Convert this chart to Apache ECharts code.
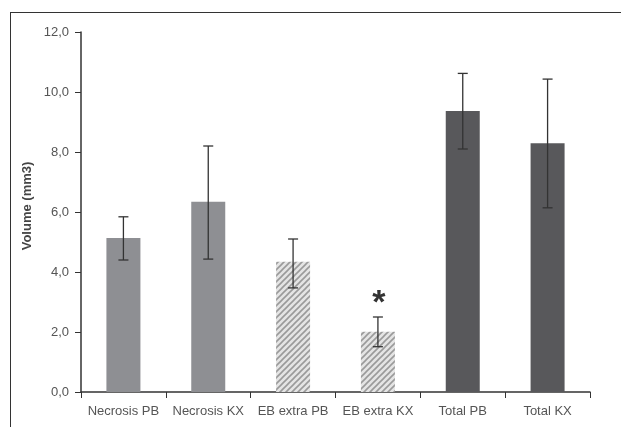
<!DOCTYPE html>
<html><head><meta charset="utf-8">
<script src="https://cdn.jsdelivr.net/npm/echarts@6/dist/echarts.min.js"></script>
<style>html,body{margin:0;padding:0;background:#fff}#c{width:621px;height:427px}
#frame{position:absolute;left:10px;top:12px;width:640px;height:440px;border:1.5px solid #333;pointer-events:none}</style>
</head><body><div id="c"></div><div id="frame"></div>
<script>
const categories = ['Necrosis PB','Necrosis KX','EB extra PB','EB extra KX','Total PB','Total KX'];
const values = [5.13, 6.34, 4.34, 2.01, 9.37, 8.29];
const errUpper = [5.84, 8.20, 5.10, 2.50, 10.62, 10.43];
const errLower = [4.40, 4.43, 3.47, 1.51, 8.10, 6.14];
const significant = [false, false, false, true, false, false];
const yTicks = [0, 2, 4, 6, 8, 10, 12];
const yTitle = 'Volume (mm3)';

function hatch(){
  const c = document.createElement('canvas');
  c.width = 6; c.height = 6;
  const g = c.getContext('2d');
  g.fillStyle = '#e4e4e4'; g.fillRect(0,0,6,6);
  g.strokeStyle = '#9a9a9a'; g.lineWidth = 1.6;
  g.beginPath();
  g.moveTo(-1,7); g.lineTo(7,-1);
  g.moveTo(-4,4); g.lineTo(4,-4);
  g.moveTo(2,10); g.lineTo(10,2);
  g.stroke();
  return {image: c, repeat: 'repeat'};
}
const pat = hatch();
const colors = ['#8e8f93','#8e8f93',pat,pat,'#58585b','#58585b'];
const font = 'Liberation Sans, Arial';

const chart = echarts.init(document.getElementById('c'));
chart.setOption({
  animation: false,
  grid: {left: 81, right: 31, top: 32, bottom: 35},
  graphic: [{
    type: 'text', rotation: Math.PI/2, position: [27, 206],
    style: {text: yTitle, x: 0, y: 0, fill: '#444', font: 'bold 13px ' + font, textAlign: 'center', textVerticalAlign: 'middle'}
  }],
  xAxis: {
    type: 'category', data: categories,
    axisLine: {lineStyle: {color: '#333', width: 1.5}},
    axisTick: {show: true, length: 6, lineStyle: {color: '#333'}},
    axisLabel: {color: '#555', fontSize: 13, fontFamily: font, margin: 13, interval: 0, hideOverlap: false}
  },
  yAxis: {
    type: 'value', min: 0, max: 12, interval: 2,
    axisLine: {show: true, lineStyle: {color: '#333', width: 1.5}},
    axisTick: {show: true, length: 6, lineStyle: {color: '#333'}},
    splitLine: {show: false},
    axisLabel: {color: '#555', fontSize: 13, fontFamily: font, margin: 12,
      formatter: v => yTicks.includes(v) ? v.toFixed(1).replace('.', ',') : ''}
  },
  series: [
    {
      type: 'bar', barWidth: 34,
      data: values.map((v,i) => ({value: v, itemStyle: {color: colors[i]}}))
    },
    {
      type: 'custom',
      data: values.map((v,i) => [i, errLower[i], errUpper[i], significant[i] ? 1 : 0]),
      z: 10,
      renderItem: (params, api) => {
        const x = api.value(0);
        const lo = api.coord([x, api.value(1)]);
        const hi = api.coord([x, api.value(2)]);
        const w = 5;
        const st = {stroke: '#333', lineWidth: 1.3};
        const children = [
          {type: 'line', shape: {x1: lo[0], y1: lo[1], x2: hi[0], y2: hi[1]}, style: st},
          {type: 'line', shape: {x1: lo[0]-w, y1: lo[1], x2: lo[0]+w, y2: lo[1]}, style: st},
          {type: 'line', shape: {x1: hi[0]-w, y1: hi[1], x2: hi[0]+w, y2: hi[1]}, style: st}
        ];
        if (api.value(3)) {
          children.push({type: 'text', style: {x: hi[0]+1, y: hi[1]+4, text: '*', fill: '#333',
            font: 'bold 34px ' + font, textAlign: 'center', textVerticalAlign: 'bottom'}});
        }
        return {type: 'group', children};
      }
    }
  ]
});
</script></body></html>
